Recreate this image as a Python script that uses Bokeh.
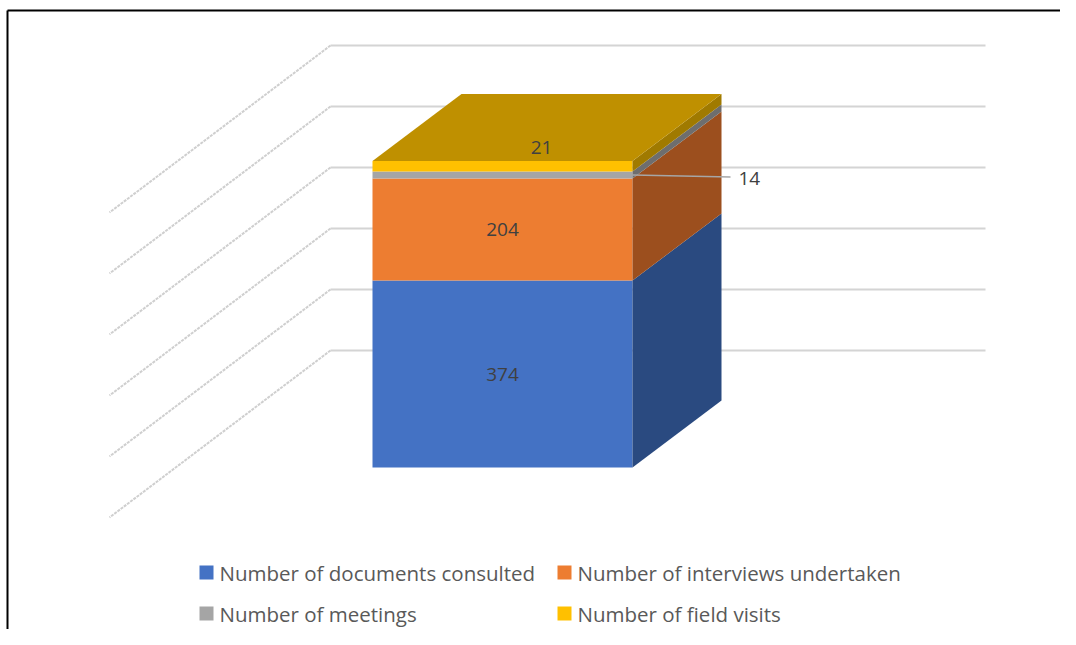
from bokeh.plotting import figure
from bokeh.models import Range1d
from bokeh.core.properties import value
from bokeh.embed import file_html
from bokeh.resources import INLINE

# ---- data ----
series = ["Number of documents consulted", "Number of interviews undertaken",
          "Number of meetings", "Number of field visits"]
counts = [374, 204, 14, 21]
front_colors = ["#4472C4", "#ED7D31", "#A5A5A5", "#FFC000"]
side_colors = ["#2A4A80", "#9C4F1E", "#6E6E6E", "#A07A00"]
top_color = "#BF9000"

W, H = 1060, 629
FONT = "Open Sans"

# x in picture pixels, y in value units (0.5 px per unit, 0 at picture row 467)
p = figure(width=W, height=H, output_backend="svg", toolbar_location=None,
           x_range=Range1d(0, W), y_range=Range1d((467 - H) * 2, 467 * 2),
           x_axis_type=None, y_axis_type=None, min_border=0,
           outline_line_color=None, background_fill_color="white")
p.grid.visible = False

def pv(pix):
    """picture pixel row -> y units (decoration only)"""
    return (467 - pix) * 2

# outer frame (left and top)
p.segment(x0=[7, 7], y0=[pv(10), pv(10)], x1=[7, W], y1=[pv(H), pv(10)],
          line_color="black", line_width=2)

# back wall gridlines + floor/side diagonals
wall_rows = [350 - 61 * i for i in range(6)]
p.segment(x0=[330] * 6, y0=[pv(r) for r in wall_rows], x1=[985] * 6,
          y1=[pv(r) for r in wall_rows], line_color="#D4D4D4", line_width=2)
p.segment(x0=[330] * 6, y0=[pv(r) for r in wall_rows], x1=[109] * 6,
          y1=[pv(r + 167) for r in wall_rows], line_color="#CFCFCF", line_width=2,
          line_dash="3 1")

# bar geometry
x_left, x_right = 372, 632
dx, dy = 89, 134  # depth offset (px in x, units in y)

bottoms, tops = [], []
acc = 0
for c in counts:
    bottoms.append(acc)
    acc += c
    tops.append(acc)
total = acc

p.quad(left=[x_left] * 4, right=[x_right] * 4, bottom=bottoms, top=tops,
       fill_color=front_colors, line_color=None)
side_xs = [[x_right, x_right + dx, x_right + dx, x_right] for _ in counts]
side_ys = [[b, b + dy, t + dy, t] for b, t in zip(bottoms, tops)]
p.patches(side_xs, side_ys, fill_color=side_colors, line_color=None)
p.patch([x_left, x_right, x_right + dx, x_left + dx],
        [total, total, total + dy, total + dy], fill_color=top_color, line_color=None)

# data labels
cx = (x_left + x_right) / 2
p.text(x=[cx, cx], y=[bottoms[0] + counts[0] / 2, bottoms[1] + counts[1] / 2],
       text=[str(counts[0]), str(counts[1])], text_align="center", text_baseline="middle",
       text_font=value(FONT), text_font_size="19px", text_color="#404040")
p.text(x=[cx + 39], y=[total + 27], text=[str(counts[3])], text_align="center",
       text_baseline="middle", text_font=value(FONT), text_font_size="19px",
       text_color="#404040")
mid_meet = bottoms[2] + counts[2] / 2
p.segment(x0=[x_right], y0=[mid_meet], x1=[730], y1=[mid_meet - 4],
          line_color="#A6A6A6", line_width=1.5)
p.text(x=[738], y=[mid_meet - 7], text=[str(counts[2])], text_align="left",
       text_baseline="middle", text_font=value(FONT), text_font_size="19px",
       text_color="#404040")

# legend
lx = [206, 564, 206, 564]
ly = [pv(572), pv(572), pv(613), pv(613)]
p.scatter(x=lx, y=ly, marker="square", size=14, fill_color=front_colors, line_color=None)
p.text(x=[v + 13 for v in lx], y=ly, text=series, text_align="left", text_baseline="middle",
       text_font=value(FONT), text_font_size="20.5px", text_color="#595959")

open("out.html", "w").write(file_html(p, INLINE))
